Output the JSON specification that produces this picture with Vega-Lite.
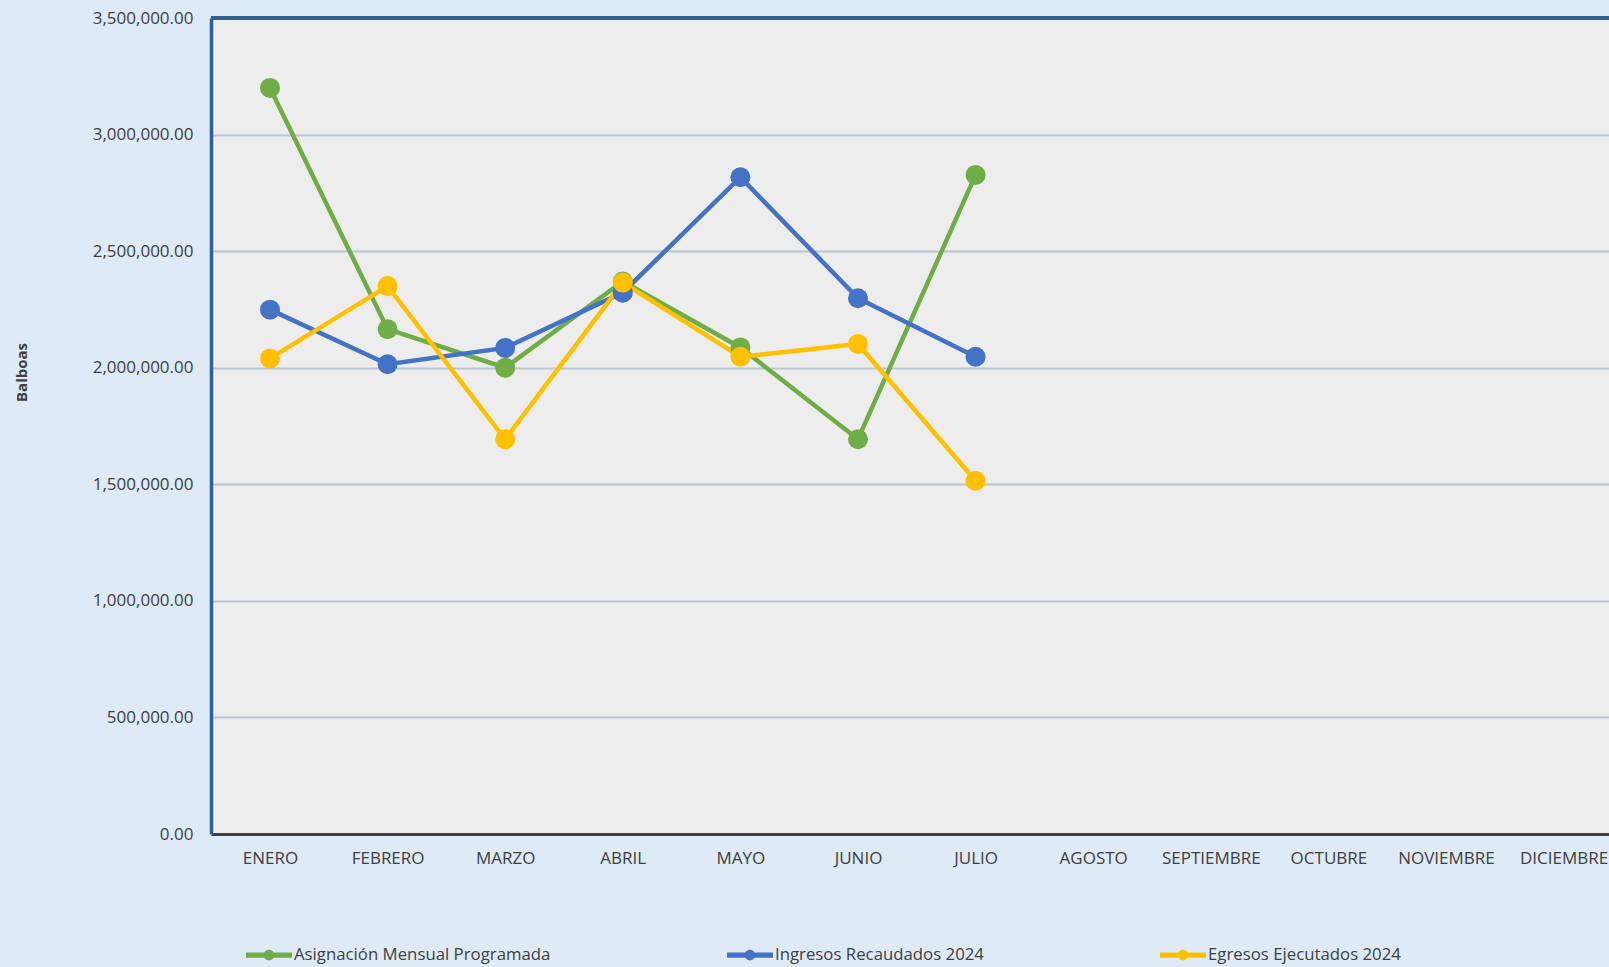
{
  "$schema": "https://vega.github.io/schema/vega-lite/v6.json",
  "autosize": {"type": "none"},
  "width": 1398,
  "height": 816,
  "padding": {"left": 211, "top": 18, "right": 0, "bottom": 133},
  "background": "#DEEAF6",
  "config": {
    "font": "Open Sans",
    "view": {"fill": "#EDEDED", "stroke": null},
    "axis": {"labelFont": "Open Sans", "labelColor": "#404040", "titleFont": "Open Sans", "titleColor": "#404040"},
    "legend": {"labelFont": "Open Sans", "labelColor": "#404040"}
  },
  "data": {
    "values": [
      {"mes": "ENERO", "serie": "Asignación Mensual Programada", "valor": 3200000},
      {"mes": "FEBRERO", "serie": "Asignación Mensual Programada", "valor": 2165000},
      {"mes": "MARZO", "serie": "Asignación Mensual Programada", "valor": 2000000},
      {"mes": "ABRIL", "serie": "Asignación Mensual Programada", "valor": 2370000},
      {"mes": "MAYO", "serie": "Asignación Mensual Programada", "valor": 2087000},
      {"mes": "JUNIO", "serie": "Asignación Mensual Programada", "valor": 1693000},
      {"mes": "JULIO", "serie": "Asignación Mensual Programada", "valor": 2827000},
      {"mes": "ENERO", "serie": "Ingresos Recaudados 2024", "valor": 2249000},
      {"mes": "FEBRERO", "serie": "Ingresos Recaudados 2024", "valor": 2015000},
      {"mes": "MARZO", "serie": "Ingresos Recaudados 2024", "valor": 2085000},
      {"mes": "ABRIL", "serie": "Ingresos Recaudados 2024", "valor": 2322000},
      {"mes": "MAYO", "serie": "Ingresos Recaudados 2024", "valor": 2817000},
      {"mes": "JUNIO", "serie": "Ingresos Recaudados 2024", "valor": 2298000},
      {"mes": "JULIO", "serie": "Ingresos Recaudados 2024", "valor": 2047000},
      {"mes": "ENERO", "serie": "Egresos Ejecutados 2024", "valor": 2040000},
      {"mes": "FEBRERO", "serie": "Egresos Ejecutados 2024", "valor": 2350000},
      {"mes": "MARZO", "serie": "Egresos Ejecutados 2024", "valor": 1693000},
      {"mes": "ABRIL", "serie": "Egresos Ejecutados 2024", "valor": 2365000},
      {"mes": "MAYO", "serie": "Egresos Ejecutados 2024", "valor": 2047000},
      {"mes": "JUNIO", "serie": "Egresos Ejecutados 2024", "valor": 2102000},
      {"mes": "JULIO", "serie": "Egresos Ejecutados 2024", "valor": 1515000}
    ]
  },
  "encoding": {
    "x": {
      "field": "mes", "type": "ordinal",
      "sort": ["ENERO","FEBRERO","MARZO","ABRIL","MAYO","JUNIO","JULIO","AGOSTO","SEPTIEMBRE","OCTUBRE","NOVIEMBRE","DICIEMBRE"],
      "scale": {"type": "point", "domain": ["ENERO","FEBRERO","MARZO","ABRIL","MAYO","JUNIO","JULIO","AGOSTO","SEPTIEMBRE","OCTUBRE","NOVIEMBRE","DICIEMBRE"], "padding": 0.444, "align": 0.565},
      "axis": {"title": null, "labelAngle": 0, "labelFontSize": 17, "labelPadding": 16, "ticks": false, "grid": false, "domainColor": "#404040", "domainWidth": 3}
    },
    "y": {
      "field": "valor", "type": "quantitative",
      "scale": {"domain": [0, 3500000], "nice": false, "zero": true},
      "axis": {"title": "Balboas", "titleFontSize": 15, "titleFontWeight": "bold", "titlePadding": 63, "titleY": 354,
        "values": [0, 500000, 1000000, 1500000, 2000000, 2500000, 3000000, 3500000],
        "format": ",.2f", "labelFontSize": 17, "labelPadding": 18, "ticks": false,
        "domainColor": "#2E6099", "domainWidth": 3.5, "gridColor": "#BAC5D2", "gridWidth": 2}
    }
  },
  "layer": [
    {
      "mark": {"type": "rule", "color": "#2E6099", "strokeWidth": 3.5},
      "encoding": {"x": null, "y": {"datum": 3500000, "type": "quantitative"}}
    },
    {
      "mark": {"type": "line", "strokeWidth": 4.5},
      "encoding": {"color": {"field": "serie", "type": "nominal",
        "scale": {"domain": ["Asignación Mensual Programada", "Ingresos Recaudados 2024", "Egresos Ejecutados 2024"], "range": ["#70AD47", "#4472C4", "#FFC000"]},
        "legend": {"title": null, "orient": "none", "direction": "horizontal", "columns": 3, "legendX": 35, "legendY": 914,
          "symbolType": "M-1,-0.11H1V0.11H-1Z M-0.23,0A0.23,0.23 0 1,1 0.23,0A0.23,0.23 0 1,1 -0.23,0Z",
          "symbolSize": 2116, "symbolStrokeWidth": 0, "symbolOpacity": 1, "labelFontSize": 16.8, "labelOffset": 2, "columnPadding": 176, "padding": 0, "labelLimit": 400}}}
    },
    {
      "mark": {"type": "point", "filled": true, "size": 400, "opacity": 1},
      "encoding": {"color": {"field": "serie", "type": "nominal"}}
    }
  ]
}
